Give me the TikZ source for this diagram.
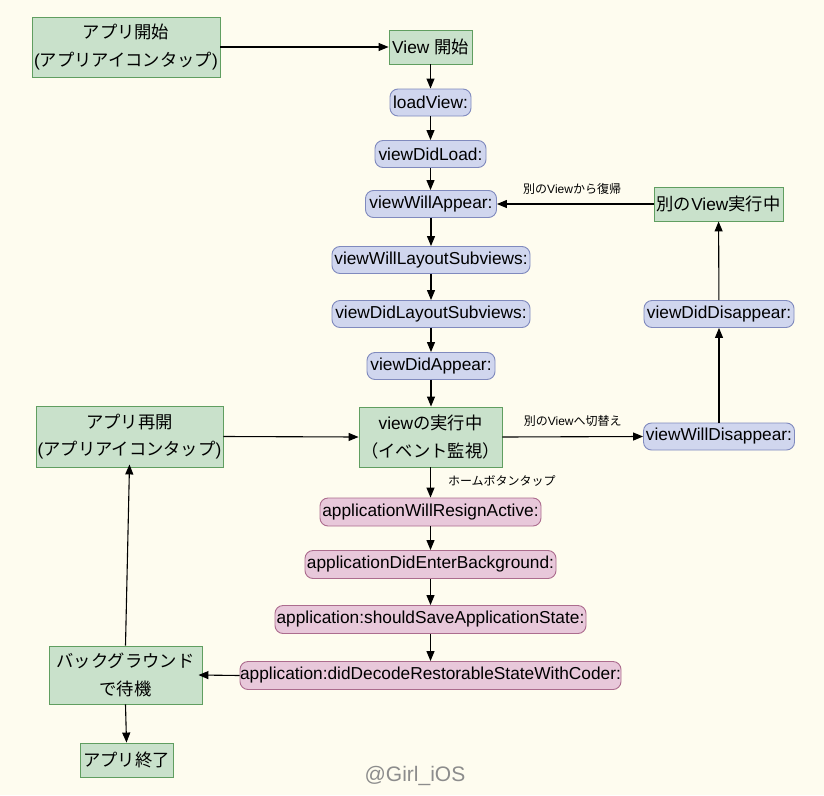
\documentclass[tikz,border=0pt]{standalone}
\usepackage{fontspec}
\setmainfont{Liberation Sans}
\newfontfamily\ja{Noto Sans CJK JP}
\usetikzlibrary{arrows.meta}
\newcommand{\J}[1]{{\ja #1}}
\newcommand{\mainsz}{\fontsize{17.3}{27.5}\selectfont}
\newcommand{\smallsz}{\fontsize{12}{14}\selectfont}
\definecolor{bgc}{RGB}{254,252,239}
\definecolor{gfill}{RGB}{201,225,203}
\definecolor{gborder}{RGB}{96,158,96}
\definecolor{bfill}{RGB}{208,214,238}
\definecolor{bborder}{RGB}{128,138,190}
\definecolor{pfill}{RGB}{232,200,218}
\definecolor{pborder}{RGB}{172,108,142}
\tikzset{
  gbox/.style={draw=gborder, fill=gfill, line width=0.9pt, inner sep=0pt, align=center, font=\mainsz},
  bnode/.style={draw=bborder, fill=bfill, line width=0.9pt, rounded corners=8pt, inner sep=0pt, minimum height=27pt, font=\mainsz},
  pnode/.style={draw=pborder, fill=pfill, line width=0.9pt, rounded corners=8pt, inner sep=0pt, minimum height=28pt, font=\mainsz},
  arr/.style={draw=black, line width=1.1pt, -{Triangle[length=10pt,width=8pt]}},
  lbl/.style={font=\smallsz, inner sep=0pt}
}
\begin{document}
\begin{tikzpicture}[x=1pt,y=-1pt]
\useasboundingbox (0,0) rectangle (824,795);
\fill[bgc] (0,0) rectangle (824,795);

\node[gbox, minimum width=188pt, minimum height=60pt] (start) at (126,47) {\J{アプリ開始}\\(\J{アプリアイコンタップ})};
\node[gbox, minimum width=83pt, minimum height=34pt] (vstart) at (430.5,47) {View \J{開始}};
\node[bnode, minimum width=81pt] (load) at (430.5,102.5) {loadView:};
\node[bnode, minimum width=111pt] (didload) at (430.5,154) {viewDidLoad:};
\node[bnode, minimum width=131pt] (willapp) at (431,204) {viewWillAppear:};
\node[bnode, minimum width=198pt] (willlay) at (431,260) {viewWillLayoutSubviews:};
\node[bnode, minimum width=198pt] (didlay) at (431,314) {viewDidLayoutSubviews:};
\node[bnode, minimum width=128pt] (didapp) at (431,366) {viewDidAppear:};
\node[gbox, minimum width=143pt, minimum height=60pt] (run) at (430.5,437) {view\J{の実行中}\\\J{（イベント監視）}};
\node[gbox, minimum width=187pt, minimum height=61pt] (resume) at (129.5,436.5) {\J{アプリ再開}\\(\J{アプリアイコンタップ})};
\node[gbox, minimum width=129pt, minimum height=34pt] (other) at (718.5,204) {\J{別の}View\J{実行中}};
\node[bnode, minimum width=150pt] (diddis) at (719,314) {viewDidDisappear:};
\node[bnode, minimum width=151pt] (willdis) at (719,436.5) {viewWillDisappear:};
\node[pnode, minimum width=221pt] (resign) at (430.5,512) {applicationWillResignActive:};
\node[pnode, minimum width=251pt] (enterbg) at (430.5,564.5) {applicationDidEnterBackground:};
\node[pnode, minimum width=311pt] (save) at (430.5,619.5) {application:shouldSaveApplicationState:};
\node[pnode, minimum width=381pt] (decode) at (430.5,675.5) {application:didDecodeRestorableStateWithCoder:};
\node[gbox, minimum width=153pt, minimum height=58pt] (bg) at (125.5,675) {\J{バックグラウンド}\\\J{で待機}};
\node[gbox, minimum width=93pt, minimum height=34pt] (end) at (126.5,760) {\J{アプリ終了}};

\node[font=\fontsize{21}{24}\selectfont, text=black!45, inner sep=0pt] (wm) at (415,776) {@Girl\_iOS};

\draw[arr] (start.east) -- (vstart.west);
\draw[arr] (vstart) -- (load);
\draw[arr] (load) -- (didload);
\draw[arr] (didload.south) -- (didload.south |- willapp.north);
\draw[arr] (willapp.south) -- (willapp.south |- willlay.north);
\draw[arr] (willlay) -- (didlay);
\draw[arr] (didlay) -- (didapp);
\draw[arr] (didapp.south) -- (didapp.south |- run.north);
\draw[arr] (other.west) -- node[lbl, above=9pt, pos=0.52] (lb1) {\J{別の}View\J{から復帰}} (willapp.east);
\draw[arr] (run.east) -- node[lbl, above=10pt, pos=0.5] (lb2) {\J{別の}View\J{へ切替え}} (willdis.west);
\draw[arr] (willdis) -- (diddis);
\draw[arr] (diddis) -- (other);
\draw[arr] (run.south) -- node[lbl, right=17pt, pos=0.45] (lb3) {\J{ホームボタンタップ}} (run.south |- resign.north);
\draw[arr] (resign) -- (enterbg);
\draw[arr] (enterbg) -- (save);
\draw[arr] (save) -- (decode);
\draw[arr] (decode.west) -- ([xshift=-4pt]bg.east);
\draw[arr] (bg.north) -- ([yshift=3pt]resume.south);
\draw[arr] (bg.south) -- (end.north);
\draw[arr] (resume.east) -- (run.west);
\end{tikzpicture}
\end{document}
